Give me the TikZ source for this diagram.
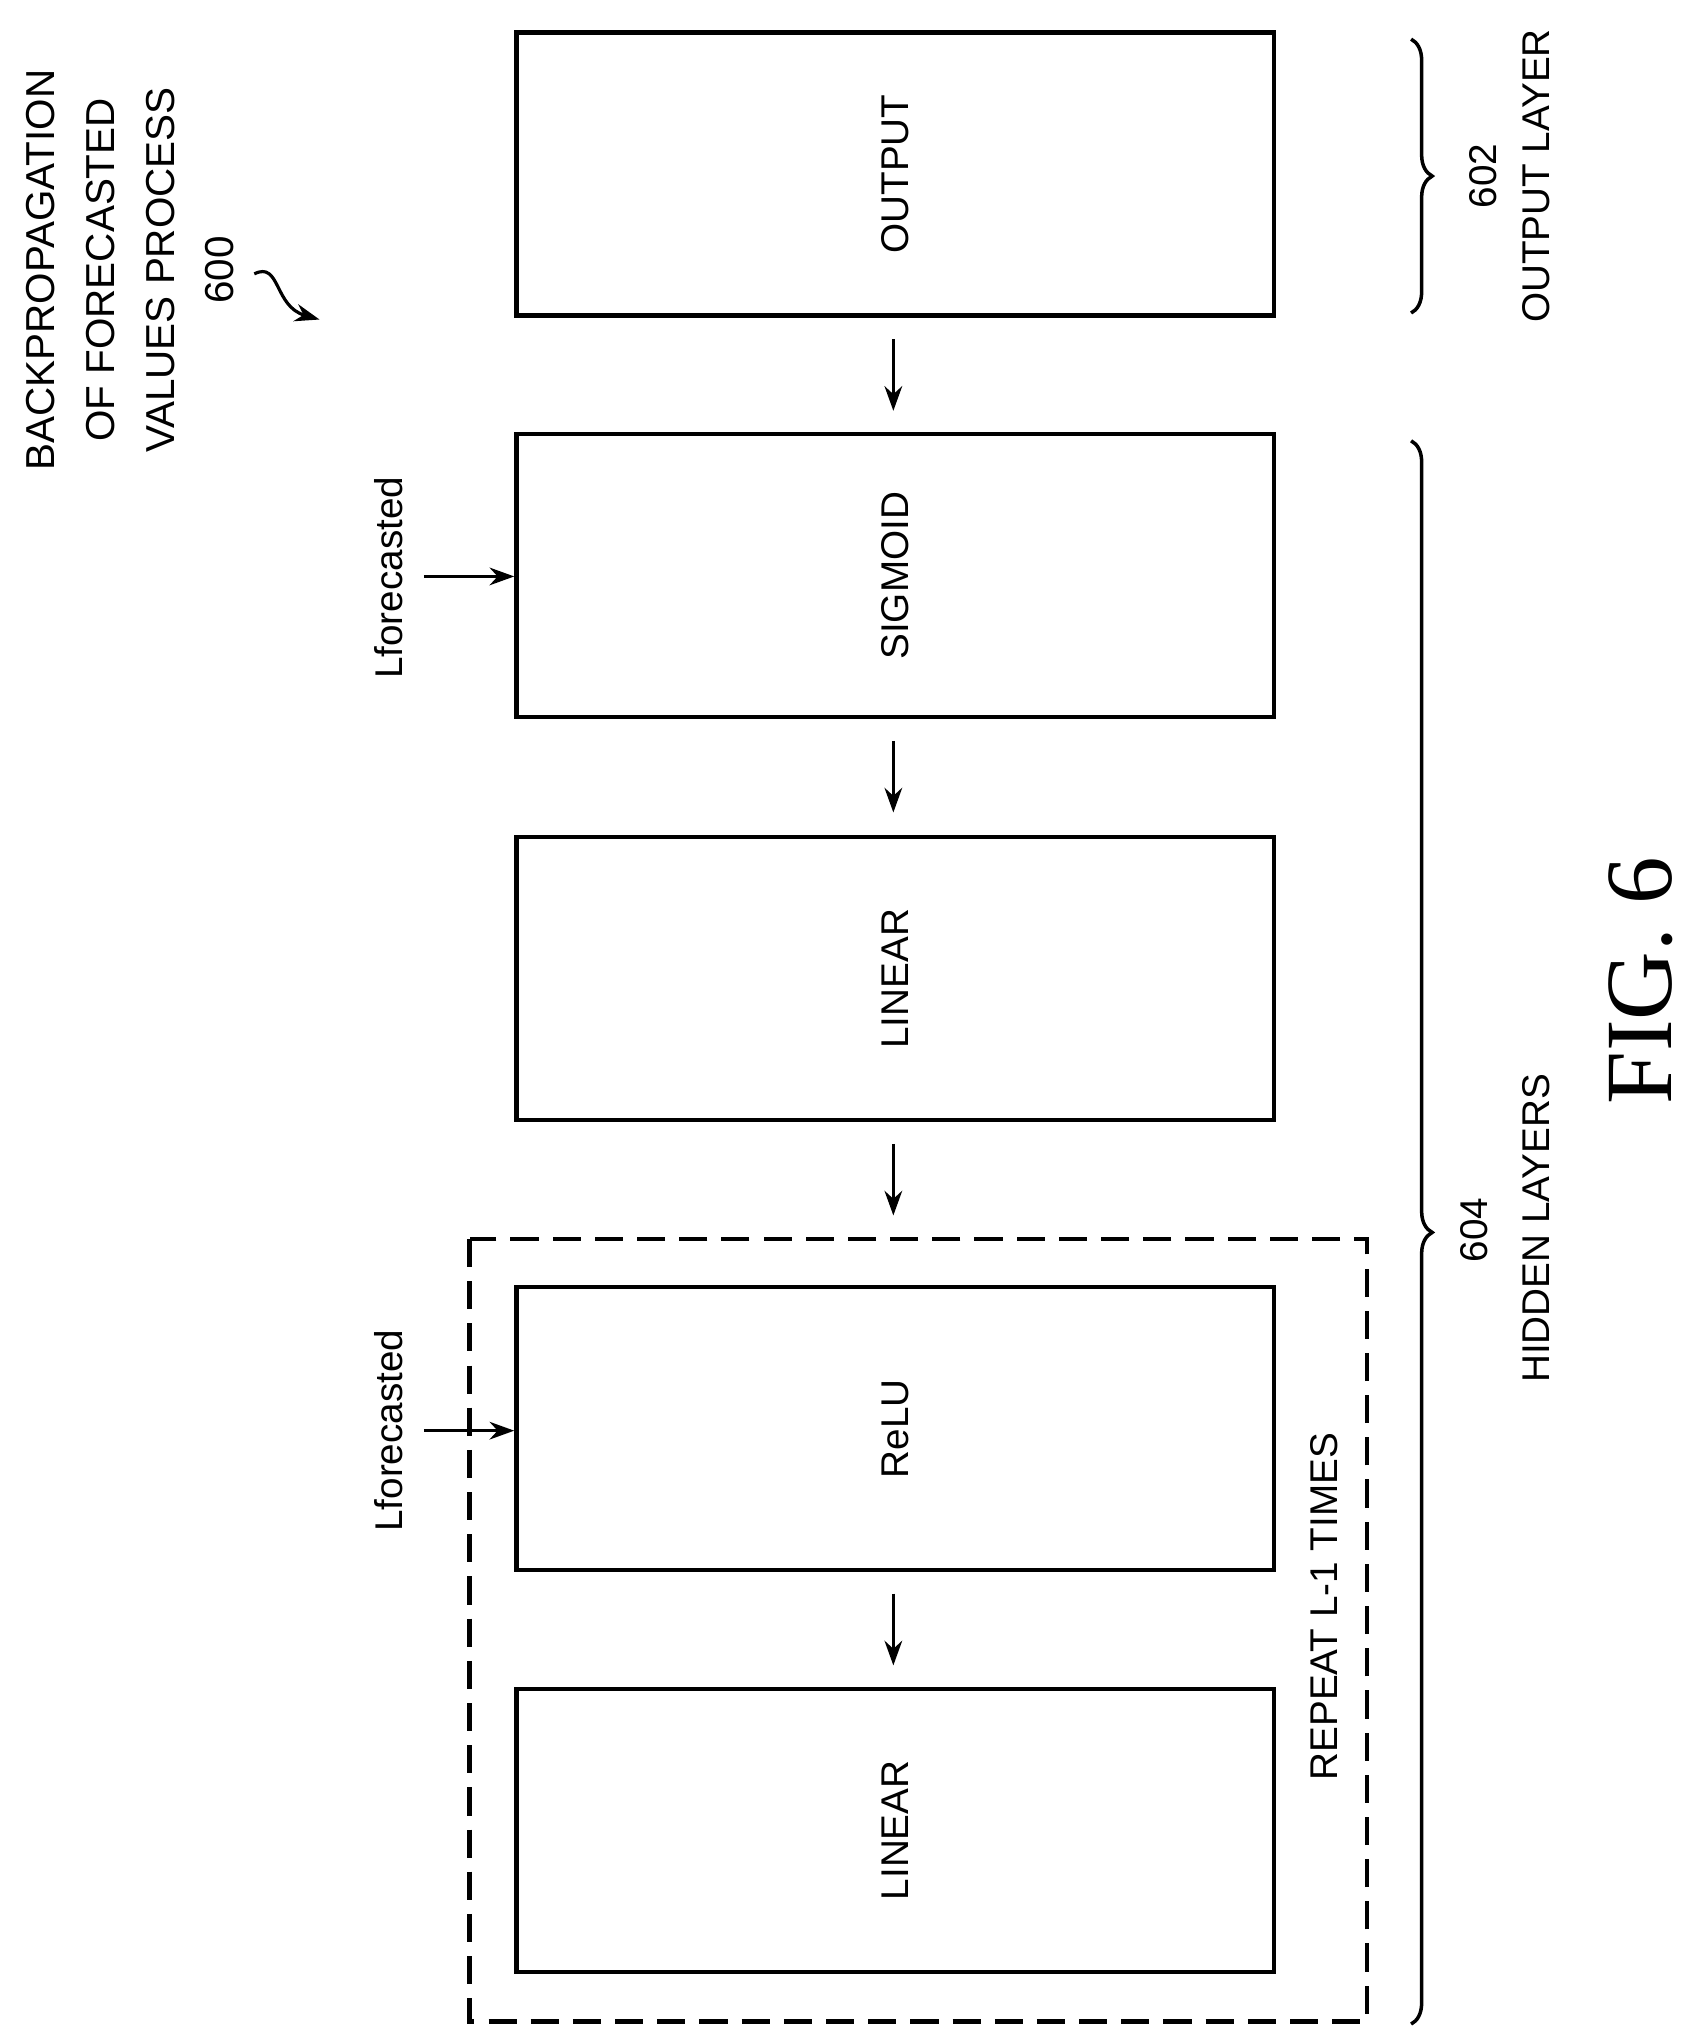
\documentclass[tikz,border=0pt]{standalone}
\usepackage{fontspec}
\setmainfont{Liberation Sans}
\newfontfamily\figfont{Liberation Serif}
\usetikzlibrary{arrows.meta,decorations.pathreplacing}
\begin{document}
\begin{tikzpicture}[x=0.026076cm,y=-0.026076cm,
  every node/.style={font=\fontsize{22}{25}\selectfont},
  layerbox/.style={draw,line width=2.5pt,minimum width=217*0.026076cm,minimum height=581*0.026076cm,rotate=90,inner sep=0pt},
  arr/.style={-{Stealth[length=14pt,width=10pt]},line width=2pt},
  lbl/.style={rotate=90,align=center}]
\useasboundingbox (0,0) rectangle (1300,1565);
\node[layerbox] (out) at (686.5,133.5) {OUTPUT};
\node[layerbox] (sig) at (686.5,441.5) {SIGMOID};
\node[layerbox] (lin1) at (686.5,750.5) {LINEAR};
\node[layerbox] (relu) at (686.5,1095.5) {ReLU};
\node[layerbox] (lin2) at (686.5,1403.5) {LINEAR};
\draw[line width=2.5pt,dash pattern=on 16pt off 8pt] (360,950) rectangle (1048,1550);
\draw[arr] (685,260) -- (685,315);
\draw[arr] (685,568) -- (685,623);
\draw[arr] (685,877) -- (685,932);
\draw[arr] (685,1222) -- (685,1277);
\node[lbl] (lf1) at (298,443) {Lforecasted};
\node[lbl] (lf2) at (298,1097) {Lforecasted};
\coordinate (s1) at (325,442);
\coordinate (s2) at (325,1097);
\draw[arr] (s1) -- (sig.north |- s1);
\draw[arr] (s2) -- (relu.north |- s2);
\draw[line width=2pt,decorate,decoration={brace,amplitude=12pt}] (1082,30) -- (1082,240);
\draw[line width=2pt,decorate,decoration={brace,amplitude=12pt}] (1082,338) -- (1082,1552);
\node[lbl] (n602) at (1137,135) {602};
\node[lbl] (ol) at (1178,135) {OUTPUT LAYER};
\node[lbl] (n604) at (1130,943) {604};
\node[lbl] (hl) at (1178,942) {HIDDEN LAYERS};
\node[lbl] (rep) at (1015,1232) {REPEAT L-1 TIMES};
\node[rotate=90,font=\figfont\fontsize{54}{58}\selectfont] (fig) at (1258,752) {FIG. 6};
\node[lbl,font=\fontsize{23}{34}\selectfont] (title) at (100,207) {BACKPROPAGATION\\OF FORECASTED\\VALUES PROCESS\\600};
\draw[-{Stealth[length=14pt,width=10pt]},line width=1.8pt] (195,210) .. controls (215,200) and (210,235) .. (245,245);
\end{tikzpicture}
\end{document}
